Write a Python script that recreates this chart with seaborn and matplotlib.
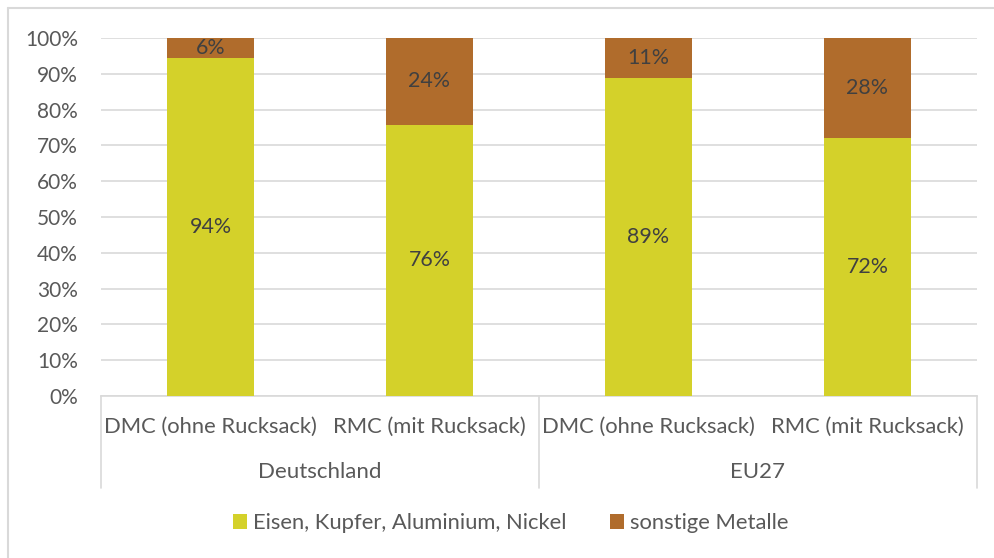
import matplotlib
matplotlib.use("Agg")
import matplotlib.pyplot as plt
import matplotlib.transforms as mtransforms
from matplotlib.lines import Line2D
from matplotlib.patches import Patch
import seaborn as sns
import pandas as pd

# ---- data ----
regions = ["Deutschland", "Deutschland", "EU27", "EU27"]
indicators = ["DMC (ohne Rucksack)", "RMC (mit Rucksack)",
              "DMC (ohne Rucksack)", "RMC (mit Rucksack)"]
eisen = [94.3, 75.7, 88.8, 72.1]          # Eisen, Kupfer, Aluminium, Nickel
sonstige = [5.7, 24.3, 11.2, 27.9]        # sonstige Metalle
series_names = ["Eisen, Kupfer, Aluminium, Nickel", "sonstige Metalle"]
yticks = [0, 10, 20, 30, 40, 50, 60, 70, 80, 90, 100]

YELLOW = "#D4D12A"
BROWN = "#B06C2C"
TXT = "#595959"
LBL = "#404040"
GRID = "#D9D9D9"

sns.set_theme(style="white")
plt.rcParams["font.family"] = ["Lato", "DejaVu Sans"]

slots = [f"{r}|{i}" for r, i in zip(regions, indicators)]
df = pd.DataFrame({
    "slot": slots,
    "eisen": eisen,
    "total": [a + b for a, b in zip(eisen, sonstige)],
})

fig = plt.figure(figsize=(9.95, 5.58), dpi=100)
ax = fig.add_axes([101 / 995, 1 - 396 / 558, 876 / 995, 358 / 558])

sns.barplot(data=df, x="slot", y="total", color=BROWN, saturation=1,
            width=0.4, ax=ax, zorder=2, linewidth=0)
sns.barplot(data=df, x="slot", y="eisen", color=YELLOW, saturation=1,
            width=0.4, ax=ax, zorder=3, linewidth=0)

ax.set_ylim(0, 100)
ax.set_xlim(-0.5, len(slots) - 0.5)
ax.set_yticks(yticks)
ax.set_yticklabels([f"{t}%" for t in yticks], fontsize=15, color=TXT)
ax.tick_params(axis="y", length=0, pad=16.5)
ax.set_xticks([])
ax.set_xlabel("")
ax.set_ylabel("")
for s in ["top", "right", "left"]:
    ax.spines[s].set_visible(False)
ax.spines["bottom"].set_color(GRID)
ax.spines["bottom"].set_linewidth(1.2)
ax.yaxis.grid(True, color=GRID, linewidth=1.2, zorder=0)
ax.set_axisbelow(True)

# data labels
for i, (a, b) in enumerate(zip(eisen, sonstige)):
    ax.text(i, a / 2, f"{round(a)}%", ha="center", va="center",
            fontsize=15.4, color=LBL, zorder=5)
    ax.text(i, a + b / 2, f"{round(b)}%", ha="center", va="center",
            fontsize=15.4, color=LBL, zorder=5)

# two-level category axis
blend = mtransforms.blended_transform_factory(ax.transData, fig.transFigure)
for i, lab in enumerate(indicators):
    ax.text(i, 1 - 427 / 558, lab, transform=blend, ha="center", va="center",
            fontsize=15.8, color=TXT, clip_on=False)
uniq = []
for r in regions:
    if r not in uniq:
        uniq.append(r)
for r in uniq:
    idx = [k for k, v in enumerate(regions) if v == r]
    ax.text(sum(idx) / len(idx), 1 - 472 / 558, r, transform=blend,
            ha="center", va="center", fontsize=16, color=TXT, clip_on=False)
for xb in [-0.5, 1.5, 3.5]:
    ax.add_line(Line2D([xb, xb], [1 - 396 / 558, 1 - 488 / 558], transform=blend,
                       color=GRID, linewidth=1.2, clip_on=False))

# legend
handles = [Patch(facecolor=YELLOW, edgecolor="none"),
           Patch(facecolor=BROWN, edgecolor="none")]
fig.legend(handles, series_names, loc="center", bbox_to_anchor=(511 / 995, 1 - 523 / 558),
           ncol=2, frameon=False, fontsize=15.8, labelcolor=TXT,
           handlelength=0.64, handleheight=0.64, handletextpad=0.27,
           columnspacing=2.0)

# chart border (top & left visible)
fig.add_artist(Line2D([8 / 995, 1], [1 - 8 / 558, 1 - 8 / 558],
                      transform=fig.transFigure, color=GRID, linewidth=1.5))
fig.add_artist(Line2D([8 / 995, 8 / 995], [0, 1 - 8 / 558],
                      transform=fig.transFigure, color=GRID, linewidth=1.5))

fig.savefig("out.png", dpi=100)
